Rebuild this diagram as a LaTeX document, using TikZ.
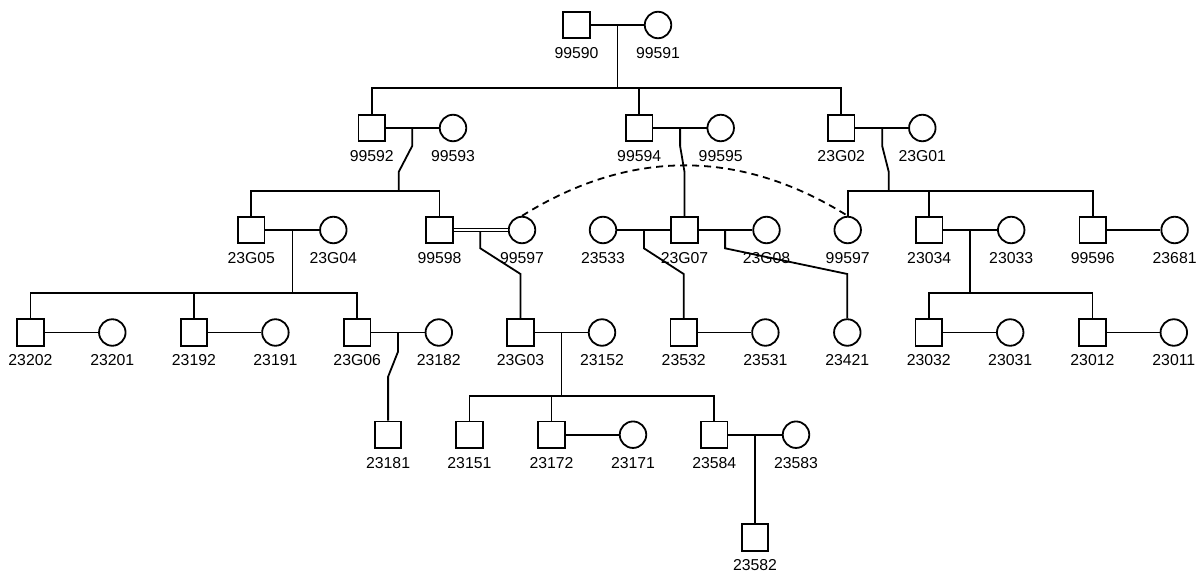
\documentclass[tikz,border=0pt]{standalone}
\usepackage{fontspec}
\setmainfont{Liberation Sans}
\tikzset{
  male/.style={draw, line width=1.8pt, rectangle, minimum size=26.5pt, inner sep=0pt},
  female/.style={draw, line width=1.8pt, circle, minimum size=26.5pt, inner sep=0pt},
  lbl/.style={font=\fontsize{15.8}{18}\selectfont, inner sep=0pt},
  ln/.style={line width=1.8pt},
  cons/.style={double, double distance=1.6pt, line width=1pt},
  link/.style={line width=1.8pt, dash pattern=on 7pt off 5pt}
}
\begin{document}
\begin{tikzpicture}[x=1pt,y=-1pt]
\path[use as bounding box, fill=white] (0,0) rectangle (1198,575);

% ---------- row 0
\node[male]   (m99590) at (576.5,25) {};
\node[female] (f99591) at (658,25) {};
% ---------- row 1
\node[male]   (m99592) at (371.8,128) {};
\node[female] (f99593) at (453,128) {};
\node[male]   (m99594) at (639.2,128) {};
\node[female] (f99595) at (720.7,128) {};
\node[male]   (m23G02) at (841.2,128) {};
\node[female] (f23G01) at (922.3,128) {};
% ---------- row 2
\node[male]   (m23G05) at (251.3,230) {};
\node[female] (f23G04) at (333.3,230) {};
\node[male]   (m99598) at (439.5,230) {};
\node[female] (fa99597) at (522,230) {};
\node[female] (f23533) at (603,230) {};
\node[male]   (m23G07) at (684.5,230) {};
\node[female] (f23G08) at (766.5,230) {};
\node[female] (fb99597) at (847.7,230) {};
\node[male]   (m23034) at (929.2,230) {};
\node[female] (f23033) at (1011.2,230) {};
\node[male]   (m99596) at (1092.8,230) {};
\node[female] (f23681) at (1174.6,230) {};
% ---------- row 3
\node[male]   (m23202) at (30.4,332.5) {};
\node[female] (f23201) at (112.3,332.5) {};
\node[male]   (m23192) at (193.9,332.5) {};
\node[female] (f23191) at (275.4,332.5) {};
\node[male]   (m23G06) at (357.2,332.5) {};
\node[female] (f23182) at (438.8,332.5) {};
\node[male]   (m23G03) at (520.5,332.5) {};
\node[female] (f23152) at (602,332.5) {};
\node[male]   (m23532) at (683.7,332.5) {};
\node[female] (f23531) at (765.4,332.5) {};
\node[female] (f23421) at (847.3,332.5) {};
\node[male]   (m23032) at (928.8,332.5) {};
\node[female] (f23031) at (1010.2,332.5) {};
\node[male]   (m23012) at (1092.4,332.5) {};
\node[female] (f23011) at (1173.8,332.5) {};
% ---------- row 4
\node[male]   (m23181) at (388.1,434.7) {};
\node[male]   (m23151) at (469.4,434.7) {};
\node[male]   (m23172) at (551.5,434.7) {};
\node[female] (f23171) at (633,434.7) {};
\node[male]   (m23584) at (714.3,434.7) {};
\node[female] (f23583) at (796,434.7) {};
% ---------- row 5
\node[male]   (m23582) at (755,537.5) {};

% ---------- labels
\node[lbl] (l99590) at (576.5,53) {99590};
\node[lbl] (l99591) at (658,53) {99591};
\node[lbl] (l99592) at (371.8,156) {99592};
\node[lbl] (l99593) at (453,156) {99593};
\node[lbl] (l99594) at (639.2,156) {99594};
\node[lbl] (l99595) at (720.7,156) {99595};
\node[lbl] (l23G02) at (841.2,156) {23G02};
\node[lbl] (l23G01) at (922.3,156) {23G01};
\node[lbl] (l23G05) at (251.3,258) {23G05};
\node[lbl] (l23G04) at (333.3,258) {23G04};
\node[lbl] (l99598) at (439.5,258) {99598};
\node[lbl] (la99597) at (522,258) {99597};
\node[lbl] (l23533) at (603,258) {23533};
\node[lbl] (l23G07) at (684.5,258) {23G07};
\node[lbl] (l23G08) at (766.5,258) {23G08};
\node[lbl] (lb99597) at (847.7,258) {99597};
\node[lbl] (l23034) at (929.2,258) {23034};
\node[lbl] (l23033) at (1011.2,258) {23033};
\node[lbl] (l99596) at (1092.8,258) {99596};
\node[lbl] (l23681) at (1174.6,258) {23681};
\node[lbl] (l23202) at (30.4,360.5) {23202};
\node[lbl] (l23201) at (112.3,360.5) {23201};
\node[lbl] (l23192) at (193.9,360.5) {23192};
\node[lbl] (l23191) at (275.4,360.5) {23191};
\node[lbl] (l23G06) at (357.2,360.5) {23G06};
\node[lbl] (l23182) at (438.8,360.5) {23182};
\node[lbl] (l23G03) at (520.5,360.5) {23G03};
\node[lbl] (l23152) at (602,360.5) {23152};
\node[lbl] (l23532) at (683.7,360.5) {23532};
\node[lbl] (l23531) at (765.4,360.5) {23531};
\node[lbl] (l23421) at (847.3,360.5) {23421};
\node[lbl] (l23032) at (928.8,360.5) {23032};
\node[lbl] (l23031) at (1010.2,360.5) {23031};
\node[lbl] (l23012) at (1092.4,360.5) {23012};
\node[lbl] (l23011) at (1173.8,360.5) {23011};
\node[lbl] (l23181) at (388.1,462.7) {23181};
\node[lbl] (l23151) at (469.4,462.7) {23151};
\node[lbl] (l23172) at (551.5,462.7) {23172};
\node[lbl] (l23171) at (633,462.7) {23171};
\node[lbl] (l23584) at (714.3,462.7) {23584};
\node[lbl] (l23583) at (796,462.7) {23583};
\node[lbl] (l23582) at (755,565.5) {23582};

% ---------- marriage lines
\draw[ln] (m99590) -- (f99591);
\draw[ln] (m99592) -- (f99593);
\draw[ln] (m99594) -- (f99595);
\draw[ln] (m23G02) -- (f23G01);
\draw[ln] (m23G05) -- (f23G04);
\draw[cons] (m99598) -- (fa99597);
\draw[ln] (f23533) -- (m23G07);
\draw[ln] (m23G07) -- (f23G08);
\draw[ln] (m23034) -- (f23033);
\draw[ln] (m99596) -- (f23681);
\draw[ln] (m23202) -- (f23201);
\draw[ln] (m23192) -- (f23191);
\draw[ln] (m23G06) -- (f23182);
\draw[ln] (m23G03) -- (f23152);
\draw[ln] (m23532) -- (f23531);
\draw[ln] (m23032) -- (f23031);
\draw[ln] (m23012) -- (f23011);
\draw[ln] (m23172) -- (f23171);
\draw[ln] (m23584) -- (f23583);

% ---------- descent coordinates
\coordinate (d1) at (617.5,25);   \coordinate (s1) at (617.5,88.3);
\coordinate (d2) at (412.2,128);  \coordinate (s2) at (398.8,190.7);
\coordinate (d3) at (680.1,128);
\coordinate (d4) at (882.2,128);  \coordinate (s4) at (888.7,190.7);
\coordinate (d5) at (292.4,230);  \coordinate (s5) at (292.4,293.3);
\coordinate (d6) at (480.3,231.5);
\coordinate (d7) at (643.9,230);
\coordinate (d8) at (725.1,230);
\coordinate (d9) at (970,230);    \coordinate (s9) at (970,293.3);
\coordinate (d10) at (398,332.5);
\coordinate (d11) at (561.4,332.5); \coordinate (s11) at (561.4,395.7);
\coordinate (d12) at (755.2,434.7);

% ---------- descents and sibships
\draw[ln] (d1) -- (s1);
\draw[ln] (m99592.north) |- (s1) -| (m23G02.north);
\draw[ln] (m99594.north) -- (m99594.north |- s1);

\draw[ln] (d2) -- ++(0,18) -- (398.8,171.7) -- (s2);
\draw[ln] (m23G05.north) |- (s2) -| (m99598.north);

\draw[ln] (d3) -- ++(0,18) -- (m23G07.north |- 0,172) -- (m23G07.north);

\draw[ln] (d4) -- ++(0,18) -- (888.7,171.7) -- (s4);
\draw[ln] (fb99597.north) |- (s4) -| (m99596.north);
\draw[ln] (m23034.north) -- (m23034.north |- s4);

\draw[ln] (d5) -- (s5);
\draw[ln] (m23202.north) |- (s5) -| (m23G06.north);
\draw[ln] (m23192.north) -- (m23192.north |- s5);

\draw[ln] (d6) -- (480.3,248.3) -- (m23G03.north |- 0,274) -- (m23G03.north);
\draw[ln] (d7) -- (643.9,248.3) -- (m23532.north |- 0,274) -- (m23532.north);
\draw[ln] (d8) -- (725.1,248.3) -- (f23421.north |- 0,274) -- (f23421.north);

\draw[ln] (d9) -- (s9);
\draw[ln] (m23032.north) |- (s9) -| (m23012.north);

\draw[ln] (d10) -- (398,351.7) -- (m23181.north |- 0,376.7) -- (m23181.north);

\draw[ln] (d11) -- (s11);
\draw[ln] (m23151.north) |- (s11) -| (m23584.north);
\draw[ln] (m23172.north) -- (m23172.north |- s11);

\draw[ln] (d12) -- (d12 |- m23582.north);

% ---------- same person link
\draw[link] (fa99597.north) to[bend left=32] (fb99597.north);
\end{tikzpicture}
\end{document}
